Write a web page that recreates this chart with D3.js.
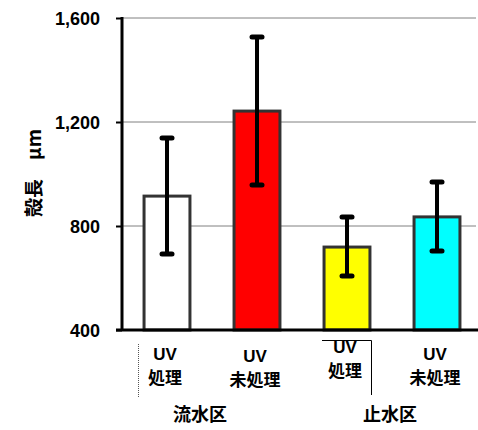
<!DOCTYPE html>
<html>
<head>
<meta charset="utf-8">
<script src="https://cdn.jsdelivr.net/npm/d3@7"></script>
<style>
  body { margin: 0; background: #fff; }
  text { font-family: "Liberation Sans", Arial, "Noto Sans CJK JP", sans-serif; font-weight: 700; }
  .jp { font-family: "Noto Sans CJK JP", sans-serif; font-weight: 700; }
</style>
</head>
<body>
<script>
const WIDTH = 478;
const HEIGHT = 430;

// data
const CATEGORIES = ["UV処理 流水", "UV未処理 流水", "UV処理 止水", "UV未処理 止水"];
const LINE1 = ["UV", "UV", "UV", "UV"];
const LINE2 = ["処理", "未処理", "処理", "未処理"];
const MEANS = [915, 1242, 719, 835];
const ERR_HI = [1138, 1527, 835, 969];
const ERR_LO = [692, 958, 608, 704];
const FILLS = ["#ffffff", "#ff0000", "#ffff00", "#00ffff"];
const GROUPS = ["流水区", "止水区"];
const Y_TICKS = [400, 800, 1200, 1600];

const svg = d3.select("body")
              .append("svg")
              .attr("width", WIDTH)
              .attr("height", HEIGHT);

const x = d3.scaleBand()
            .domain(CATEGORIES)
            .range([122, 482])
            .paddingInner(0.49)
            .paddingOuter(0.245);

const y = d3.scaleLinear()
            .domain([400, 1600])
            .range([330, 18]);

// gridlines
svg.append("g")
   .selectAll("line")
   .data(Y_TICKS.slice(1))
   .enter()
   .append("line")
   .attr("x1", 122)
   .attr("x2", 476)
   .attr("y1", d => y(d))
   .attr("y2", d => y(d))
   .attr("stroke", "#808080")
   .attr("stroke-width", 1);

// bars
svg.selectAll("rect.bar")
   .data(MEANS)
   .enter()
   .append("rect")
   .attr("class", "bar")
   .attr("x", (d, i) => x(CATEGORIES[i]))
   .attr("y", d => y(d))
   .attr("width", x.bandwidth())
   .attr("height", d => y(400) - y(d))
   .attr("fill", (d, i) => FILLS[i])
   .attr("stroke", "#333")
   .attr("stroke-width", 3);

// error bars
const err = svg.append("g")
               .attr("stroke", "#000")
               .attr("stroke-linecap", "round");

CATEGORIES.forEach((c, i) => {
  const cx = x(c) + x.bandwidth() / 2;
  err.append("line")
     .attr("x1", cx).attr("x2", cx)
     .attr("y1", y(ERR_HI[i])).attr("y2", y(ERR_LO[i]))
     .attr("stroke-width", 4);
  [ERR_HI[i], ERR_LO[i]].forEach(v => {
    err.append("line")
       .attr("x1", cx - 5).attr("x2", cx + 5)
       .attr("y1", y(v)).attr("y2", y(v))
       .attr("stroke-width", 5);
  });
});

// y axis
const yAxis = d3.axisLeft(y)
                .tickValues(Y_TICKS)
                .tickSize(6)
                .tickPadding(16)
                .tickFormat(d3.format(","));

const yg = svg.append("g")
              .attr("transform", "translate(122,0)")
              .call(yAxis);
yg.select(".domain").remove();
yg.selectAll(".tick line").attr("stroke", "#000").attr("stroke-width", 2);
yg.selectAll(".tick text").attr("font-size", 18).attr("fill", "#000")
  .attr("dy", "0.36em")
  .style("font-family", "'Liberation Sans', Arial, sans-serif")
  .style("font-weight", "700");

svg.append("line")
   .attr("x1", 122).attr("x2", 122)
   .attr("y1", 17).attr("y2", 331)
   .attr("stroke", "#000").attr("stroke-width", 3);

svg.append("line")
   .attr("x1", 116).attr("x2", 478)
   .attr("y1", 330).attr("y2", 330)
   .attr("stroke", "#000").attr("stroke-width", 3);

// y label
svg.append("text")
   .attr("class", "jp")
   .attr("transform", "translate(41,173) rotate(-90)")
   .attr("text-anchor", "middle")
   .attr("font-size", 19)
   .text("殻長　μm");

// category labels, two lines each
const line1Y = [360, 362, 353, 360];
CATEGORIES.forEach((c, i) => {
  const cx = x(c) + x.bandwidth() / 2 - 2;
  svg.append("text")
     .attr("x", cx)
     .attr("y", line1Y[i])
     .attr("text-anchor", "middle")
     .attr("font-size", 17)
     .text(LINE1[i]);
  svg.append("text")
     .attr("class", "jp")
     .attr("x", cx)
     .attr("y", line1Y[i] + 24)
     .attr("text-anchor", "middle")
     .attr("font-size", 17)
     .text(LINE2[i]);
});

// group labels
const groupX = [
  (x(CATEGORIES[0]) + x(CATEGORIES[1]) + x.bandwidth()) / 2 - 12,
  (x(CATEGORIES[2]) + x(CATEGORIES[3]) + x.bandwidth()) / 2 - 2
];
svg.selectAll("text.group")
   .data(GROUPS)
   .enter()
   .append("text")
   .attr("class", "group jp")
   .attr("x", (d, i) => groupX[i])
   .attr("y", 421)
   .attr("text-anchor", "middle")
   .attr("font-size", 18)
   .text(d => d);

// stray separator lines
svg.append("line")
   .attr("x1", 138.5).attr("x2", 138.5)
   .attr("y1", 344).attr("y2", 397)
   .attr("stroke", "#555").attr("stroke-width", 1)
   .attr("stroke-dasharray", "1,1");
svg.append("path")
   .attr("d", "M322,340.5 H371.5 V395")
   .attr("fill", "none")
   .attr("stroke", "#000").attr("stroke-width", 1);
</script>
</body>
</html>
